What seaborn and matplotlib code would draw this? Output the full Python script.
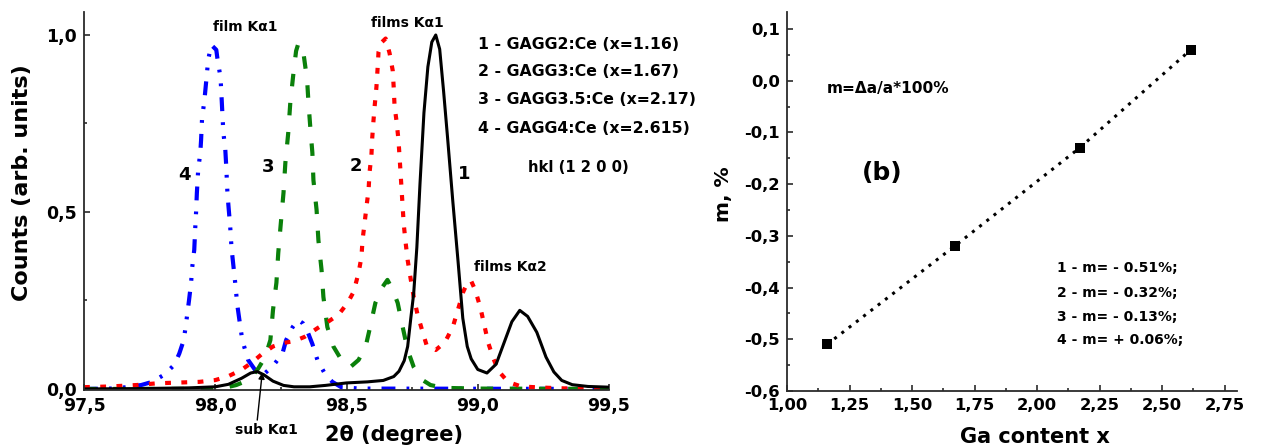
import matplotlib
matplotlib.use("Agg")
import matplotlib.pyplot as plt
from matplotlib.ticker import MultipleLocator, FuncFormatter
import pandas as pd
import seaborn as sns

# ---- (a) XRD rocking profiles, hkl (1 2 0 0) ----
# curve 1: GAGG2:Ce (x=1.16)
two_theta_1 = [97.50, 97.70, 97.90, 98.00, 98.05, 98.10, 98.135, 98.16, 98.185, 98.22,
               98.26, 98.30, 98.36, 98.42, 98.50, 98.58, 98.64, 98.68, 98.70, 98.72,
               98.733, 98.745, 98.756, 98.768, 98.78, 98.795, 98.81, 98.825, 98.84, 98.855,
               98.87, 98.885, 98.905, 98.925, 98.943, 98.96, 98.975, 99.00, 99.035, 99.07,
               99.10, 99.13, 99.16, 99.19, 99.225, 99.26, 99.29, 99.32, 99.36, 99.42, 99.50]
counts_1 = [0.000, 0.001, 0.003, 0.006, 0.013, 0.030, 0.045, 0.049, 0.040, 0.022,
            0.010, 0.006, 0.006, 0.010, 0.017, 0.020, 0.024, 0.035, 0.050, 0.080,
            0.120, 0.200, 0.270, 0.400, 0.580, 0.780, 0.910, 0.980, 1.000, 0.960,
            0.840, 0.710, 0.530, 0.360, 0.200, 0.120, 0.085, 0.055, 0.045, 0.070,
            0.130, 0.190, 0.222, 0.205, 0.160, 0.090, 0.048, 0.024, 0.012, 0.007, 0.005]

# curve 2: GAGG3:Ce (x=1.67)
two_theta_2 = [97.50, 97.60, 97.70, 97.78, 97.86, 97.94, 98.00, 98.05, 98.10, 98.14,
               98.18, 98.22, 98.26, 98.30, 98.34, 98.39, 98.43, 98.47, 98.504, 98.527,
               98.546, 98.557, 98.561, 98.569, 98.576, 98.584, 98.588, 98.595, 98.598, 98.603,
               98.607, 98.614, 98.618, 98.622, 98.635, 98.649, 98.664, 98.676, 98.680, 98.683,
               98.691, 98.698, 98.702, 98.706, 98.714, 98.718, 98.725, 98.733, 98.744, 98.756,
               98.771, 98.790, 98.805, 98.840, 98.875, 98.905, 98.925, 98.945, 98.962, 98.975,
               98.990, 99.010, 99.025, 99.040, 99.060, 99.080, 99.115, 99.165, 99.240, 99.350, 99.50]
counts_2 = [0.005, 0.007, 0.011, 0.016, 0.018, 0.020, 0.025, 0.036, 0.054, 0.075,
            0.100, 0.120, 0.130, 0.135, 0.147, 0.172, 0.190, 0.210, 0.243, 0.274,
            0.328, 0.373, 0.420, 0.469, 0.514, 0.562, 0.613, 0.661, 0.709, 0.760,
            0.797, 0.853, 0.900, 0.952, 0.980, 0.990, 0.949, 0.900, 0.850, 0.800,
            0.754, 0.703, 0.658, 0.610, 0.514, 0.466, 0.415, 0.364, 0.313, 0.260,
            0.209, 0.161, 0.124, 0.110, 0.132, 0.175, 0.225, 0.275, 0.302, 0.305,
            0.280, 0.230, 0.180, 0.130, 0.085, 0.050, 0.020, 0.007, 0.004, 0.001, 0.000]

# curve 3: GAGG3.5:Ce (x=2.17)
two_theta_3 = [97.50, 97.90, 98.00, 98.035, 98.08, 98.11, 98.14, 98.164, 98.19, 98.21,
               98.22, 98.233, 98.24, 98.25, 98.26, 98.267, 98.278, 98.286, 98.298, 98.308,
               98.317, 98.326, 98.336, 98.35, 98.355, 98.363, 98.37, 98.374, 98.386, 98.393,
               98.405, 98.412, 98.427, 98.45, 98.488, 98.515, 98.546, 98.573, 98.59, 98.61,
               98.637, 98.656, 98.676, 98.695, 98.714, 98.733, 98.756, 98.79, 98.82, 98.87,
               99.00, 99.50]
counts_3 = [0.000, 0.000, 0.001, 0.003, 0.011, 0.020, 0.035, 0.058, 0.090, 0.138,
            0.223, 0.300, 0.384, 0.470, 0.554, 0.638, 0.723, 0.810, 0.893, 0.955,
            0.977, 0.970, 0.949, 0.873, 0.810, 0.730, 0.667, 0.590, 0.506, 0.420,
            0.336, 0.260, 0.175, 0.120, 0.073, 0.062, 0.082, 0.120, 0.175, 0.243,
            0.288, 0.308, 0.280, 0.243, 0.175, 0.110, 0.062, 0.025, 0.011, 0.003,
            0.001, 0.000]

# curve 4: GAGG4:Ce (x=2.615)
two_theta_4 = [97.50, 97.60, 97.664, 97.718, 97.76, 97.805, 97.844, 97.863, 97.88, 97.888,
               97.90, 97.908, 97.912, 97.92, 97.924, 97.927, 97.93, 97.935, 97.943, 97.946,
               97.95, 97.958, 97.966, 97.973, 97.985, 98.004, 98.008, 98.02, 98.023, 98.027,
               98.031, 98.038, 98.042, 98.046, 98.05, 98.057, 98.062, 98.068, 98.076, 98.084,
               98.092, 98.103, 98.125, 98.16, 98.19, 98.22, 98.256, 98.27, 98.295, 98.315,
               98.335, 98.35, 98.37, 98.39, 98.42, 98.446, 98.48, 98.55, 99.50]
counts_4 = [0.000, 0.001, 0.005, 0.011, 0.020, 0.040, 0.068, 0.100, 0.138, 0.180,
            0.250, 0.300, 0.342, 0.393, 0.458, 0.500, 0.554, 0.619, 0.667, 0.703,
            0.768, 0.810, 0.873, 0.930, 0.972, 0.958, 0.935, 0.880, 0.840, 0.780,
            0.723, 0.680, 0.627, 0.560, 0.520, 0.458, 0.398, 0.356, 0.300, 0.237,
            0.195, 0.138, 0.082, 0.045, 0.045, 0.065, 0.100, 0.138, 0.175, 0.195,
            0.185, 0.165, 0.127, 0.080, 0.040, 0.020, 0.005, 0.001, 0.000]

sample_labels = ["1 - GAGG2:Ce (x=1.16)", "2 - GAGG3:Ce (x=1.67)",
                 "3 - GAGG3.5:Ce (x=2.17)", "4 - GAGG4:Ce (x=2.615)"]

# ---- (b) lattice mismatch vs Ga content ----
ga_content = [1.16, 1.67, 2.17, 2.615]
mismatch = [-0.51, -0.32, -0.13, 0.06]
mismatch_labels = ["1 - m= - 0.51%;", "2 - m= - 0.32%;",
                   "3 - m= - 0.13%;", "4 - m= + 0.06%;"]

sns.set_theme(style="ticks")
plt.rcParams["font.family"] = ["DejaVu Sans"]
plt.rcParams["font.weight"] = "bold"
plt.rcParams["axes.labelweight"] = "bold"
plt.rcParams["text.color"] = "black"
plt.rcParams["axes.labelcolor"] = "black"
plt.rcParams["xtick.color"] = "black"
plt.rcParams["ytick.color"] = "black"
plt.rcParams["lines.scale_dashes"] = False

W, H = 1288, 448
fig = plt.figure(figsize=(W / 100, H / 100), dpi=100)
ax1 = fig.add_axes([84 / W, 1 - 390 / H, 525 / W, 378 / H])
ax2 = fig.add_axes([787 / W, 1 - 391 / H, 450 / W, 379 / H])

spine_color = "#2b2b2b"


def comma(fmt):
    return FuncFormatter(lambda v, pos: (fmt % v).replace(".", ","))


def style_axes(ax, tick_size):
    for side in ("top", "right"):
        ax.spines[side].set_visible(False)
    for side in ("left", "bottom"):
        ax.spines[side].set_color(spine_color)
        ax.spines[side].set_linewidth(1.3)
    ax.tick_params(which="both", direction="in", color=spine_color, width=1.2,
                   labelsize=tick_size, labelcolor="black")
    ax.tick_params(which="major", length=4.5, pad=5)
    ax.tick_params(which="minor", length=2.5)
    for lab in ax.get_xticklabels() + ax.get_yticklabels():
        lab.set_fontweight("bold")


def place_labels(ax, xpos, ypos):
    ax.xaxis.label.set_verticalalignment("center")
    ax.yaxis.label.set_verticalalignment("center")
    ax.yaxis.label.set_horizontalalignment("center")
    ax.xaxis.set_label_coords(*xpos)
    ax.yaxis.set_label_coords(*ypos)


# profiles: curve 4, 3, 2, then 1 on top
profiles = [
    (two_theta_4, counts_4, "#0000ff", 3.0, (0, (10, 8, 2, 8, 2, 8))),
    (two_theta_3, counts_3, "#0a800a", 3.0, (0, (9, 12))),
    (two_theta_2, counts_2, "#ff0000", 3.0, (0, (4.2, 7.5))),
    (two_theta_1, counts_1, "black", 2.2, "-"),
]
for tt, cnt, col, lw, ls in profiles:
    df = pd.DataFrame({"two_theta": tt, "counts": cnt})
    sns.lineplot(data=df, x="two_theta", y="counts", ax=ax1, color=col, lw=lw,
                 linestyle=ls, sort=False, estimator=None)
    ax1.get_lines()[-1].set_solid_joinstyle("round")

ax1.set_xlim(97.5, 99.5)
ax1.set_ylim(-0.003, 1.065)
ax1.xaxis.set_major_locator(MultipleLocator(0.5))
ax1.xaxis.set_minor_locator(MultipleLocator(0.25))
ax1.yaxis.set_major_locator(MultipleLocator(0.5))
ax1.yaxis.set_minor_locator(MultipleLocator(0.25))
ax1.xaxis.set_major_formatter(comma("%.1f"))
ax1.yaxis.set_major_formatter(comma("%.1f"))
style_axes(ax1, 12.5)
ax1.set_xlabel("2θ (degree)", fontsize=15, fontweight="bold")
ax1.set_ylabel("Counts (arb. units)", fontsize=16, fontweight="bold")
place_labels(ax1, (0.59, -0.119), (-0.118, 0.548))

ax1.text(97.992, 1.023, "film Kα1", fontsize=10, fontweight="bold", va="center")
ax1.text(98.595, 1.035, "films Kα1", fontsize=10, fontweight="bold", va="center")
ax1.text(98.985, 0.345, "films Kα2", fontsize=10, fontweight="bold", va="center")
for i, lab in enumerate(sample_labels):
    ax1.text(99.0, [0.972, 0.898, 0.819, 0.737][i], lab, fontsize=11.3,
             fontweight="bold", va="center")
ax1.text(99.19, 0.627, "hkl (1 2 0 0)", fontsize=10.6, fontweight="bold", va="center")
for num, (nx, ny) in zip("1234", [(98.947, 0.607), (98.534, 0.63),
                                  (98.202, 0.627), (97.882, 0.605)]):
    ax1.text(nx, ny, num, fontsize=13, fontweight="bold", ha="center", va="center")
ax1.annotate("", xy=(98.179, 0.046), xytext=(98.160, -0.088),
             arrowprops=dict(arrowstyle="-|>", color="black", lw=1.0,
                             mutation_scale=9, shrinkA=0, shrinkB=0),
             annotation_clip=False)
ax1.text(98.076, -0.116, "sub Kα1", fontsize=10, fontweight="bold", va="center",
         clip_on=False)

# ---- panel (b) ----
mdf = pd.DataFrame({"ga": ga_content, "m": mismatch})
sns.lineplot(data=mdf, x="ga", y="m", ax=ax2, color="black", lw=2.2,
             linestyle=(0, (2.2, 4.4)), sort=False, estimator=None)
sns.scatterplot(data=mdf, x="ga", y="m", ax=ax2, marker="s", s=55, color="black",
                edgecolor="black", linewidth=0, zorder=3)
ax2.set_xlim(1.0, 2.80)
ax2.set_ylim(-0.6, 0.133)
ax2.xaxis.set_major_locator(MultipleLocator(0.25))
ax2.xaxis.set_minor_locator(MultipleLocator(0.125))
ax2.yaxis.set_major_locator(MultipleLocator(0.1))
ax2.yaxis.set_minor_locator(MultipleLocator(0.05))
ax2.xaxis.set_major_formatter(comma("%.2f"))
ax2.yaxis.set_major_formatter(comma("%.1f"))
style_axes(ax2, 11.8)
ax2.set_xlabel("Ga content x", fontsize=15, fontweight="bold")
ax2.set_ylabel("m, %", fontsize=14.5, fontweight="bold")
place_labels(ax2, (0.551, -0.121), (-0.142, 0.52))

ax2.text(1.16, -0.014, "m=Δa/a*100%", fontsize=11.1, fontweight="bold", va="center")
ax2.text(1.30, -0.179, "(b)", fontsize=18, fontweight="bold", va="center")
for i, lab in enumerate(mismatch_labels):
    ax2.text(2.08, [-0.362, -0.41, -0.457, -0.502][i], lab, fontsize=10,
             fontweight="bold", va="center")

fig.savefig("out.png", dpi=100)
